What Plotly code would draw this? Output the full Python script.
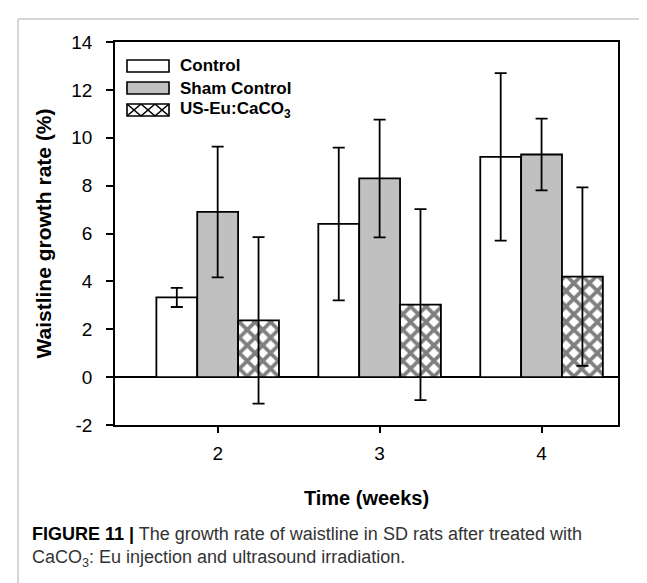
import plotly.graph_objects as go

weeks = [2, 3, 4]
week_labels = ["2", "3", "4"]
control = [3.33, 6.40, 9.20]
control_err = [0.40, 3.19, 3.50]
sham = [6.90, 8.30, 9.30]
sham_err = [2.73, 2.46, 1.50]
us_eu = [2.37, 3.03, 4.20]
us_eu_err = [3.48, 3.99, 3.73]
series_names = ["Control", "Sham Control", "US-Eu:CaCO<sub>3</sub>"]
y_ticks = [-2, 0, 2, 4, 6, 8, 10, 12, 14]
y_tick_labels = ["-2", "0", "2", "4", "6", "8", "10", "12", "14"]

FONT = "Liberation Sans, Arial, sans-serif"
W, H = 647, 583
ML, MR, MT, MB = 107, 37, 34, 166
PW, PH = W - ML - MR, H - MT - MB


def px(x):
    return (x - ML) / PW


def py(y):
    return 1 - (y - MT) / PH


def err(v):
    return dict(type="data", array=v, visible=True, color="black", thickness=1.8, width=6)


line = dict(color="black", width=1.8)
fig = go.Figure()
fig.add_trace(go.Bar(x=weeks, y=control, name=series_names[0], error_y=err(control_err),
                     marker=dict(color="white", line=line)))
fig.add_trace(go.Bar(x=weeks, y=sham, name=series_names[1], error_y=err(sham_err),
                     marker=dict(color="#c0c0c0", line=line)))
fig.add_trace(go.Bar(x=weeks, y=us_eu, name=series_names[2], error_y=err(us_eu_err),
                     marker=dict(color="white", line=line,
                                 pattern=dict(shape="x", fgcolor="black", bgcolor="white",
                                              size=11, solidity=0.55))))

# custom legend (wide swatches as in the reference)
shapes = []
annotations = []
sw_x0, sw_x1 = 119, 161
rows = [(52, 64), (74, 86), (96, 108)]
fills = ["white", "#c0c0c0", "white"]
for i, (y0, y1) in enumerate(rows):
    shapes.append(dict(type="rect", xref="paper", yref="paper",
                       x0=px(sw_x0), x1=px(sw_x1), y0=py(y1), y1=py(y0),
                       fillcolor=fills[i], line=dict(color="black", width=1.6), layer="above"))
    annotations.append(dict(xref="paper", yref="paper", x=px(170), y=py((y0 + y1) / 2),
                            xanchor="left", yanchor="middle", showarrow=False,
                            text="<b>" + series_names[i] + "</b>",
                            font=dict(size=17, family=FONT, color="black")))
# hatch inside third swatch
y0, y1 = rows[2]
cell = (sw_x1 - sw_x0) / 3
for k in range(3):
    a = sw_x0 + k * cell
    b = a + cell
    shapes.append(dict(type="line", xref="paper", yref="paper", x0=px(a), x1=px(b),
                       y0=py(y0), y1=py(y1), line=dict(color="black", width=1.6), layer="above"))
    shapes.append(dict(type="line", xref="paper", yref="paper", x0=px(a), x1=px(b),
                       y0=py(y1), y1=py(y0), line=dict(color="black", width=1.6), layer="above"))

# light gray frame of the figure panel
shapes.append(dict(type="line", xref="paper", yref="paper", x0=px(10), x1=px(W + 2),
                   y0=py(11), y1=py(11), line=dict(color="#c8c8c8", width=1.5)))
shapes.append(dict(type="line", xref="paper", yref="paper", x0=px(10), x1=px(10),
                   y0=py(11), y1=py(H + 2), line=dict(color="#c8c8c8", width=1.5)))

annotations.append(dict(xref="paper", yref="paper", x=px(22), y=py(526), xanchor="left",
                        yanchor="middle", align="left", showarrow=False,
                        text="<b>FIGURE 11 |</b> <span style='color:#333'>The growth rate of waistline in SD rats after treated with</span>",
                        font=dict(size=18, family=FONT, color="black")))
annotations.append(dict(xref="paper", yref="paper", x=px(22), y=py(550), xanchor="left",
                        yanchor="middle", align="left", showarrow=False,
                        text="CaCO<sub>3</sub>: Eu injection and ultrasound irradiation.",
                        font=dict(size=18, family=FONT, color="#333")))

fig.update_layout(
    width=W, height=H,
    margin=dict(l=ML, r=MR, t=MT, b=MB),
    paper_bgcolor="white", plot_bgcolor="white",
    barmode="group", bargap=0.243, bargroupgap=0,
    font=dict(family=FONT, color="black", size=19),
    showlegend=False,
    xaxis=dict(range=[1.366, 4.472], tickvals=weeks, ticktext=week_labels,
               ticks="outside", ticklen=6, tickwidth=1.5, tickcolor="black",
               ticklabelstandoff=4,
               showline=True, linecolor="black", linewidth=1.5, mirror=True,
               showgrid=False, zeroline=False,
               title=dict(text="<b>Time (weeks)</b>", font=dict(size=20), standoff=28)),
    yaxis=dict(range=[-2, 14], tickvals=y_ticks, ticktext=y_tick_labels,
               ticks="outside", ticklen=7, tickwidth=1.5, ticklabelstandoff=10,
               tickcolor="black", showline=True, linecolor="black", linewidth=1.5, mirror=True,
               showgrid=False, zeroline=True, zerolinecolor="black", zerolinewidth=1.5,
               title=dict(text="<b>Waistline growth rate (%)</b>", font=dict(size=21), standoff=14)),
    shapes=shapes,
    annotations=annotations,
)

fig.write_html("out.html")
